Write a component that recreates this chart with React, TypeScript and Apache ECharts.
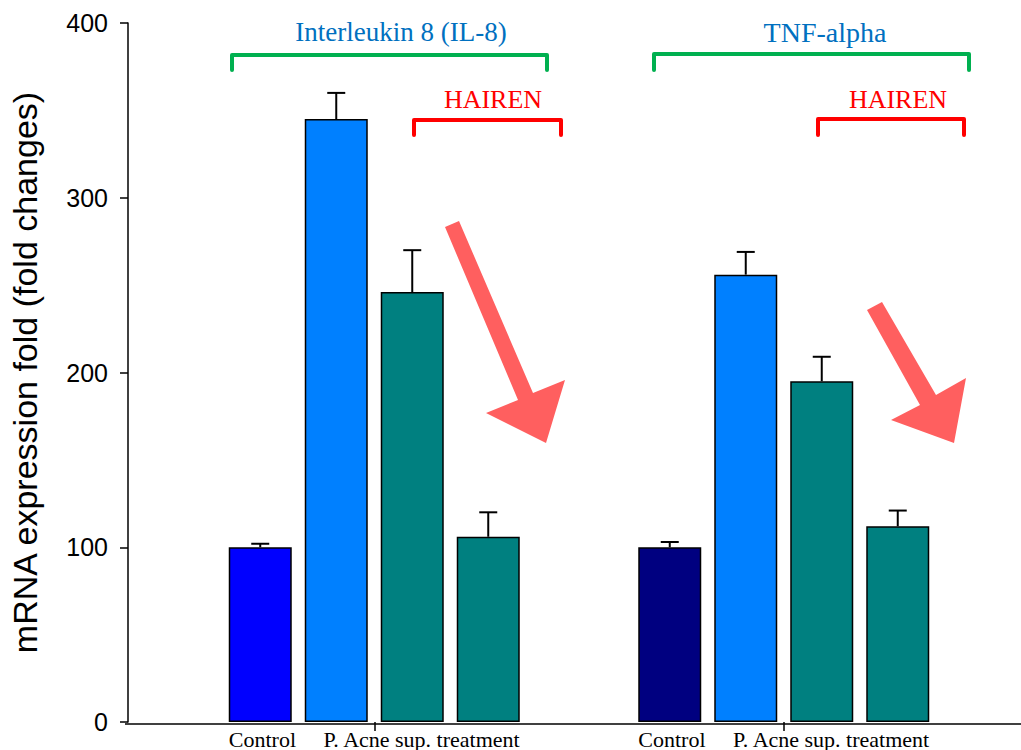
import React, { useEffect, useRef } from "react";
import * as echarts from "echarts";

// ---- data ----
const groups = ["IL-8", "TNF-alpha"];
const groupTitles = ["Interleukin 8 (IL-8)", "TNF-alpha"];
const xTickLabel = "Control\u00A0\u00A0\u00A0\u00A0\u00A0P. Acne sup. treatment";
const yTicks = [0, 100, 200, 300, 400];

const controlValues = [100, 100];
const controlErr = [2, 3];
const acneValues = [345, 256];
const acneErr = [15, 13];
const hairenAValues = [246, 195];
const hairenAErr = [24, 14];
const hairenBValues = [106, 112];
const hairenBErr = [14, 9];

const controlColors = ["#0000FF", "#000080"];
const acneColor = "#0080FF";
const hairenColor = "#008080";

const BAR_W = 63;
const BAR_GAP = 13;

export default function App() {
  const ref = useRef<HTMLDivElement>(null);

  useEffect(() => {
    document.body.style.margin = "0";
    if (!ref.current) return;
    const chart = echarts.init(ref.current, undefined, { renderer: "svg" });

    const seriesVals = [controlValues, acneValues, hairenAValues, hairenBValues];
    const seriesErr = [controlErr, acneErr, hairenAErr, hairenBErr];
    const errData: number[][] = [];
    seriesVals.forEach((vals, k) => {
      vals.forEach((v, g) => {
        errData.push([g, v, seriesErr[k][g], k]);
      });
    });

    const barBase = {
      type: "bar",
      barWidth: BAR_W,
      barGap: (BAR_GAP / BAR_W) * 100 + "%",
      itemStyle: { borderColor: "#000", borderWidth: 1.5 },
      z: 2,
    };

    const bracket = (pts: number[][], color: string) => ({
      type: "polyline",
      shape: { points: pts },
      style: { stroke: color, lineWidth: 4, fill: null, lineCap: "round", lineJoin: "round" },
      z: 10,
    });
    const label = (text: string, x: number, y: number, color: string, size: number) => ({
      type: "text",
      x,
      y,
      style: {
        text,
        fill: color,
        font: size + "px 'Liberation Serif'",
        textAlign: "center",
        textVerticalAlign: "middle",
      },
      z: 10,
    });
    const arrowColor = "#FF5F5F";

    chart.setOption({
      animation: false,
      grid: { left: 166.5, right: 32.5, top: 23, bottom: 26, containLabel: false },
      xAxis: {
        type: "category",
        data: groups,
        axisLine: { show: false },
        axisTick: { show: true, alignWithLabel: true, length: 9, lineStyle: { color: "#000", width: 1.5 } },
        axisLabel: {
          interval: 0,
          formatter: () => xTickLabel,
          fontFamily: "Liberation Serif",
          fontSize: 22,
          color: "#000",
          margin: 6,
        },
      },
      yAxis: {
        type: "value",
        min: yTicks[0],
        max: yTicks[yTicks.length - 1],
        interval: 100,
        offset: 41.5,
        name: "mRNA expression fold (fold changes)",
        nameLocation: "middle",
        nameGap: 86,
        nameTextStyle: { fontFamily: "Liberation Sans", fontSize: 34, color: "#000" },
        axisLine: { show: true, lineStyle: { color: "#000", width: 1.5 } },
        axisTick: { show: true, length: 8, lineStyle: { color: "#000", width: 1.5 } },
        axisLabel: { fontFamily: "Liberation Sans", fontSize: 25, color: "#000", margin: 20 },
        splitLine: { show: false },
      },
      series: [
        {
          ...barBase,
          name: "Control",
          data: controlValues.map((v, i) => ({ value: v, itemStyle: { color: controlColors[i] } })),
        },
        { ...barBase, name: "P. Acne", data: acneValues, itemStyle: { ...barBase.itemStyle, color: acneColor } },
        { ...barBase, name: "HAIREN A", data: hairenAValues, itemStyle: { ...barBase.itemStyle, color: hairenColor } },
        { ...barBase, name: "HAIREN B", data: hairenBValues, itemStyle: { ...barBase.itemStyle, color: hairenColor } },
        {
          type: "custom",
          name: "error",
          data: errData,
          encode: { x: 0, y: 1 },
          z: 5,
          renderItem: (params: any, api: any) => {
            const g = api.value(0);
            const v = api.value(1);
            const e = api.value(2);
            const k = api.value(3);
            const base = api.coord([g, v]);
            const top = api.coord([g, v + e]);
            const x = base[0] + (k - 1.5) * (BAR_W + BAR_GAP);
            const style = { stroke: "#000", lineWidth: 2 };
            return {
              type: "group",
              children: [
                { type: "line", shape: { x1: x, y1: base[1], x2: x, y2: top[1] }, style },
                { type: "line", shape: { x1: x - 9, y1: top[1], x2: x + 9, y2: top[1] }, style },
              ],
            };
          },
        },
      ],
      graphic: [
        {
          type: "line",
          shape: { x1: 125, y1: 724, x2: 1021, y2: 724 },
          style: { stroke: "#000", lineWidth: 1.5 },
          z: 20,
        },
        bracket([[232, 70], [232, 55], [547, 55], [547, 70]], "#00B050"),
        bracket([[654, 70], [654, 54], [969, 54], [969, 70]], "#00B050"),
        bracket([[414, 135], [414, 120], [561, 120], [561, 135]], "#FF0000"),
        bracket([[818, 135], [818, 119], [964, 119], [964, 135]], "#FF0000"),
        label(groupTitles[0], 401, 32, "#0070C0", 27),
        label(groupTitles[1], 825, 32, "#0070C0", 28),
        label("HAIREN", 493, 99, "#FF0000", 26),
        label("HAIREN", 898, 99, "#FF0000", 26),
        {
          type: "polygon",
          shape: {
            points: [[459, 221], [533, 393], [565, 380], [546, 443], [486, 413], [518, 400], [445, 227]],
          },
          style: { fill: arrowColor },
          z: 10,
        },
        {
          type: "polygon",
          shape: {
            points: [[882, 302], [936, 395], [966, 378], [954, 443], [891, 420], [920, 405], [867, 310]],
          },
          style: { fill: arrowColor },
          z: 10,
        },
      ],
    });

    return () => chart.dispose();
  }, []);

  return <div ref={ref} style={{ width: 1021, height: 750 }} />;
}
